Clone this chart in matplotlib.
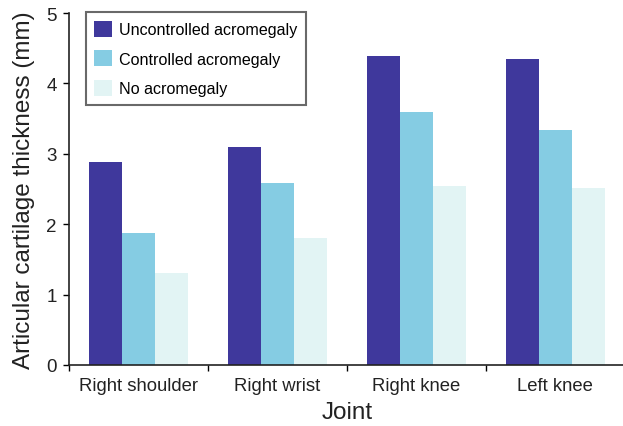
import numpy as np
import matplotlib.pyplot as plt
from matplotlib.ticker import FixedLocator

plt.rcParams['font.family'] = ['Liberation Sans', 'DejaVu Sans']

joints = ['Right shoulder', 'Right wrist', 'Right knee', 'Left knee']
uncontrolled = [2.88, 3.09, 4.39, 4.35]
controlled = [1.87, 2.58, 3.60, 3.34]
no_acro = [1.31, 1.80, 2.54, 2.52]

series = [('Uncontrolled acromegaly', uncontrolled, '#3f389c'),
          ('Controlled acromegaly', controlled, '#85cce3'),
          ('No acromegaly', no_acro, '#e2f4f4')]

fig = plt.figure(figsize=(6.23, 4.27), dpi=100)
ax = fig.add_axes([0.111, 0.143, 0.892, 0.824])

x = np.arange(len(joints))
w = 0.237
for i, (name, vals, col) in enumerate(series):
    ax.bar(x + (i - 1) * w, vals, width=w, color=col, label=name)

ax.set_xlim(-0.5, 3.5)
ax.set_ylim(0, 5)
ax.set_xticks(x)
ax.set_xticklabels(joints, fontsize=13.3, color='#222222')
ax.xaxis.set_minor_locator(FixedLocator(np.arange(-0.5, 3.0, 1.0)))
ax.tick_params(axis='x', which='major', length=0, pad=9)
ax.tick_params(axis='x', which='minor', length=4, width=1, direction='out')
ax.set_yticks([0, 1, 2, 3, 4, 5])
ax.tick_params(axis='y', labelsize=13.5, length=4, width=1, pad=5, labelcolor='#222222')

for s in ['top', 'right']:
    ax.spines[s].set_visible(False)
for s in ['left', 'bottom']:
    ax.spines[s].set_linewidth(1.2)
    ax.spines[s].set_color('#222222')

ax.set_ylabel('Articular cartilage thickness (mm)', fontsize=17.5, color='#222222', labelpad=8)
ax.set_xlabel('Joint', fontsize=17.5, color='#222222', labelpad=5)

leg = ax.legend(loc='upper left', bbox_to_anchor=(0.015, 1.026), fontsize=11.6,
                fancybox=False, frameon=True, handlelength=1.1, handleheight=1.15,
                labelspacing=0.8, borderpad=0.55, handletextpad=0.4)
leg.get_frame().set_edgecolor('#444444')
leg.get_frame().set_linewidth(1.5)

plt.savefig('out.png', dpi=100)
